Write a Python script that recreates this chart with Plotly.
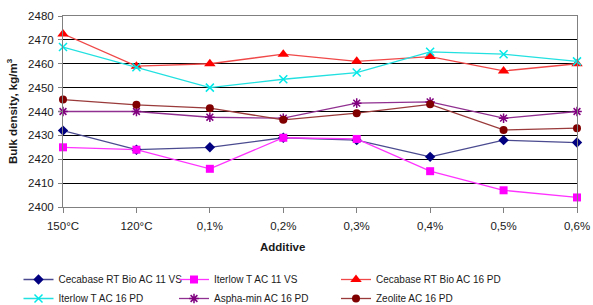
import plotly.graph_objects as go

categories = ["150°C", "120°C", "0,1%", "0,2%", "0,3%", "0,4%", "0,5%", "0,6%"]

cecabase_11vs = [2432, 2424, 2425, 2429, 2428, 2421, 2428, 2427]
iterlow_11vs = [2425, 2424, 2416, 2429, 2428.5, 2415, 2407, 2404]
cecabase_16pd = [2472.5, 2459, 2460, 2464, 2461, 2463, 2457, 2460]
iterlow_16pd = [2467, 2458.5, 2450, 2453.5, 2456.3, 2465, 2464, 2461]
asphamin_16pd = [2440, 2440, 2437.6, 2437.2, 2443.5, 2444, 2437.2, 2440]
zeolite_16pd = [2445, 2442.8, 2441.4, 2436.5, 2439.3, 2443, 2432.3, 2433]

series = [
    ("Cecabase RT Bio AC 11 VS", cecabase_11vs, "#000080", "#4a4a90", "diamond", 8, "legend"),
    ("Iterlow T AC 11 VS", iterlow_11vs, "#FF00FF", "#FF33FF", "square", 8, "legend2"),
    ("Cecabase RT Bio AC 16 PD", cecabase_16pd, "#FF0000", "#F04848", "triangle-up", 10, "legend3"),
    ("Iterlow T AC 16 PD", iterlow_16pd, "#00E8E8", "#22E0E0", "x-thin-open", 8, "legend"),
    ("Aspha-min AC 16 PD", asphamin_16pd, "#800080", "#903090", "asterisk-open", 8, "legend2"),
    ("Zeolite AC 16 PD", zeolite_16pd, "#800000", "#9A3A3A", "circle", 8, "legend3"),
]

fig = go.Figure()
for name, vals, mcol, lcol, sym, size, leg in series:
    open_sym = sym.endswith("open")
    fig.add_trace(go.Scatter(
        x=categories, y=vals, name=name, mode="lines+markers",
        line=dict(color=lcol, width=1.3),
        marker=dict(symbol=sym, size=size, color=mcol,
                    line=dict(color=mcol, width=1.5 if open_sym else 0)),
        cliponaxis=False, legend=leg,
    ))

font_family = "Liberation Sans, Arial, sans-serif"
leg_top = (207 - 265) / 191


def legend_at(px):
    return dict(
        orientation="v", x=(px - 63) / 514, xanchor="left", y=leg_top, yanchor="top",
        font=dict(size=10, color="#1a1a1a"), tracegroupgap=0, itemwidth=30,
        bgcolor="rgba(0,0,0,0)",
    )


fig.update_layout(
    width=593, height=305,
    margin=dict(l=63, r=16, t=16, b=98, autoexpand=False),
    paper_bgcolor="white", plot_bgcolor="white",
    font=dict(family=font_family, size=11.5, color="#1a1a1a"),
    showlegend=True,
    legend=legend_at(18.5),
    legend2=legend_at(174),
    legend3=legend_at(336),
    xaxis=dict(
        type="category", range=[0, 7], showgrid=False,
        showline=True, linecolor="#808080", linewidth=1, mirror=True,
        ticks="outside", ticklen=5, tickcolor="#808080",
        tickfont=dict(size=11.5, color="#1a1a1a"), ticklabelstandoff=3,
    ),
    yaxis=dict(
        range=[2400, 2480], dtick=10, showgrid=True, gridcolor="black", gridwidth=1,
        showline=True, linecolor="#808080", linewidth=1, mirror=True,
        ticks="outside", ticklen=4, tickcolor="#808080",
        tickfont=dict(size=11.5, color="#1a1a1a"), ticklabelstandoff=2,
        title=dict(text="<b>Bulk density, kg/m<sup>3</sup></b>", font=dict(size=11.5), standoff=8),
        zeroline=False,
    ),
    annotations=[dict(
        text="<b>Additive</b>", xref="paper", yref="paper",
        x=(282 - 63) / 514, y=(207 - 247) / 191, xanchor="center", yanchor="middle",
        showarrow=False, font=dict(size=11.5, color="#1a1a1a"),
    )],
)

fig.write_html("out.html", post_script="document.body.style.margin='0';",
               config={"displayModeBar": False})
